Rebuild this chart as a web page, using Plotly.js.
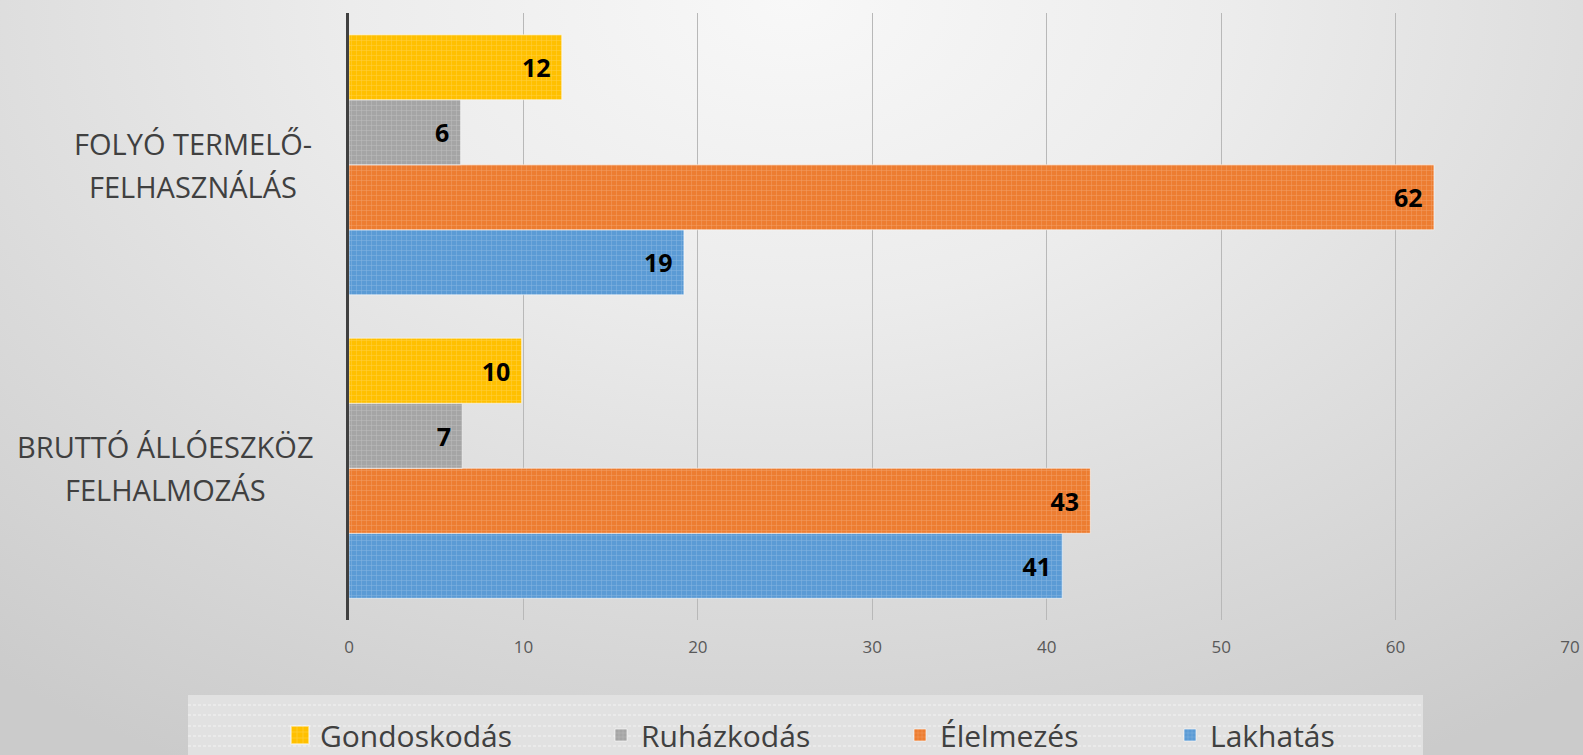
<!DOCTYPE html>
<html>
<head>
<meta charset="utf-8">
<script src="https://cdn.plot.ly/plotly-3.0.1.min.js"></script>
<style>
  html, body { margin: 0; padding: 0; width: 1583px; height: 755px; overflow: hidden; }
  body { background: radial-gradient(ellipse 80% 115% at 50% 0%, #f8f8f8 0%, #ececec 35%, #dadada 70%, #cbcbcb 100%); }
  #chart { width: 1583px; height: 755px; }
  .legend .legendpoints path { transform: translate(20px, 0px) scale(1.5); }
</style>
</head>
<body>
<div id="chart"></div>
<script>
// ---- data ----
const categories = ['BRUTTÓ ÁLLÓESZKÖZ FELHALMOZÁS', 'FOLYÓ TERMELŐ-FELHASZNÁLÁS'];
const categoryLines = [['BRUTTÓ ÁLLÓESZKÖZ', 'FELHALMOZÁS'], ['FOLYÓ TERMELŐ-', 'FELHASZNÁLÁS']];
const seriesNames = ['Lakhatás', 'Élelmezés', 'Ruházkodás', 'Gondoskodás'];
const lakhatas = [40.9, 19.2];
const elelmezes = [42.5, 62.2];
const ruhazkodas = [6.5, 6.4];
const gondoskodas = [9.9, 12.2];
const xTickVals = [0, 10, 20, 30, 40, 50, 60, 70];

// ---- styles ----
const seriesValues = [lakhatas, elelmezes, ruhazkodas, gondoskodas];
const seriesColors = ['#5B9BD5', '#ED7D31', '#A5A5A5', '#FFC000'];
const legendIds = ['legend4', 'legend3', 'legend2', 'legend'];
const legendSymbolPx = [1191, 921, 622, 301];
const plotL = 349, plotR = 1570, plotT = 13, plotB = 620;
const plotW = plotR - plotL, plotH = plotB - plotT;
const px2x = p => (p - plotL) / plotW;
const px2y = p => (plotB - p) / plotH;

const traces = seriesNames.map((name, i) => ({
  type: 'bar',
  orientation: 'h',
  name: name,
  y: categories,
  x: seriesValues[i],
  legend: legendIds[i],
  marker: {
    color: seriesColors[i],
    line: { color: 'rgba(255,255,255,0.55)', width: 1 },
    pattern: { shape: '+', fgcolor: 'rgba(255,255,255,0.25)', bgcolor: seriesColors[i], size: 5, solidity: 0.2 }
  },
  texttemplate: '%{x:.0f}\u2009\u2009',
  textposition: 'inside',
  insidetextanchor: 'end',
  constraintext: 'none',
  textfont: { family: 'Open Sans', size: 25, color: '#000000', weight: 'bold' },
  hoverinfo: 'x+name'
}));

const annotations = [];
const labelCenterShift = [-184, -156];
categoryLines.forEach((lines, ci) => {
  lines.forEach((line, li) => {
    annotations.push({
      xref: 'paper', yref: 'y',
      x: 0, y: categories[ci],
      xshift: labelCenterShift[ci],
      yshift: li === 0 ? 21.5 : -21.5,
      xanchor: 'center', yanchor: 'middle',
      text: line, showarrow: false,
      font: { family: 'Open Sans', size: 29, color: '#404040' }
    });
  });
});

const shapes = [{
  type: 'rect', xref: 'paper', yref: 'paper', layer: 'below',
  x0: px2x(188), x1: px2x(1423), y0: px2y(695), y1: px2y(760),
  fillcolor: '#e1e1e1', line: { width: 0 }
}];
[705, 715, 726, 736, 746].forEach(py => {
  shapes.push({
    type: 'line', xref: 'paper', yref: 'paper', layer: 'below',
    x0: px2x(188), x1: px2x(1423), y0: px2y(py), y1: px2y(py),
    line: { color: 'rgba(255,255,255,0.6)', width: 1, dash: '3px,2px' }
  });
});

const layout = {
  width: 1583, height: 755,
  paper_bgcolor: 'rgba(0,0,0,0)',
  plot_bgcolor: 'rgba(0,0,0,0)',
  margin: { l: plotL, r: 1583 - plotR, t: plotT, b: 755 - plotB, autoexpand: false },
  barmode: 'group',
  bargap: 0.143,
  bargroupgap: 0,
  xaxis: {
    range: [0, 70], tickvals: xTickVals, ticks: '',
    showgrid: true, gridcolor: '#b8b8b8', gridwidth: 1,
    zeroline: false, showline: false,
    tickfont: { family: 'Open Sans', size: 17, color: '#595959' },
    ticklabelstandoff: 15, fixedrange: true
  },
  yaxis: {
    showticklabels: false, ticks: '', showgrid: false, zeroline: false,
    showline: true, linecolor: '#404040', linewidth: 3, fixedrange: true
  },
  annotations: annotations,
  shapes: shapes,
  showlegend: true
};
legendIds.forEach((id, i) => {
  layout[id] = {
    x: px2x(legendSymbolPx[i] - 21), xanchor: 'left',
    y: px2y(735), yanchor: 'middle',
    orientation: 'h',
    bgcolor: 'rgba(0,0,0,0)', borderwidth: 0,
    font: { family: 'Open Sans', size: 30, color: '#404040' }
  };
});

Plotly.newPlot('chart', traces, layout, { displayModeBar: false, staticPlot: true });
</script>
</body>
</html>
